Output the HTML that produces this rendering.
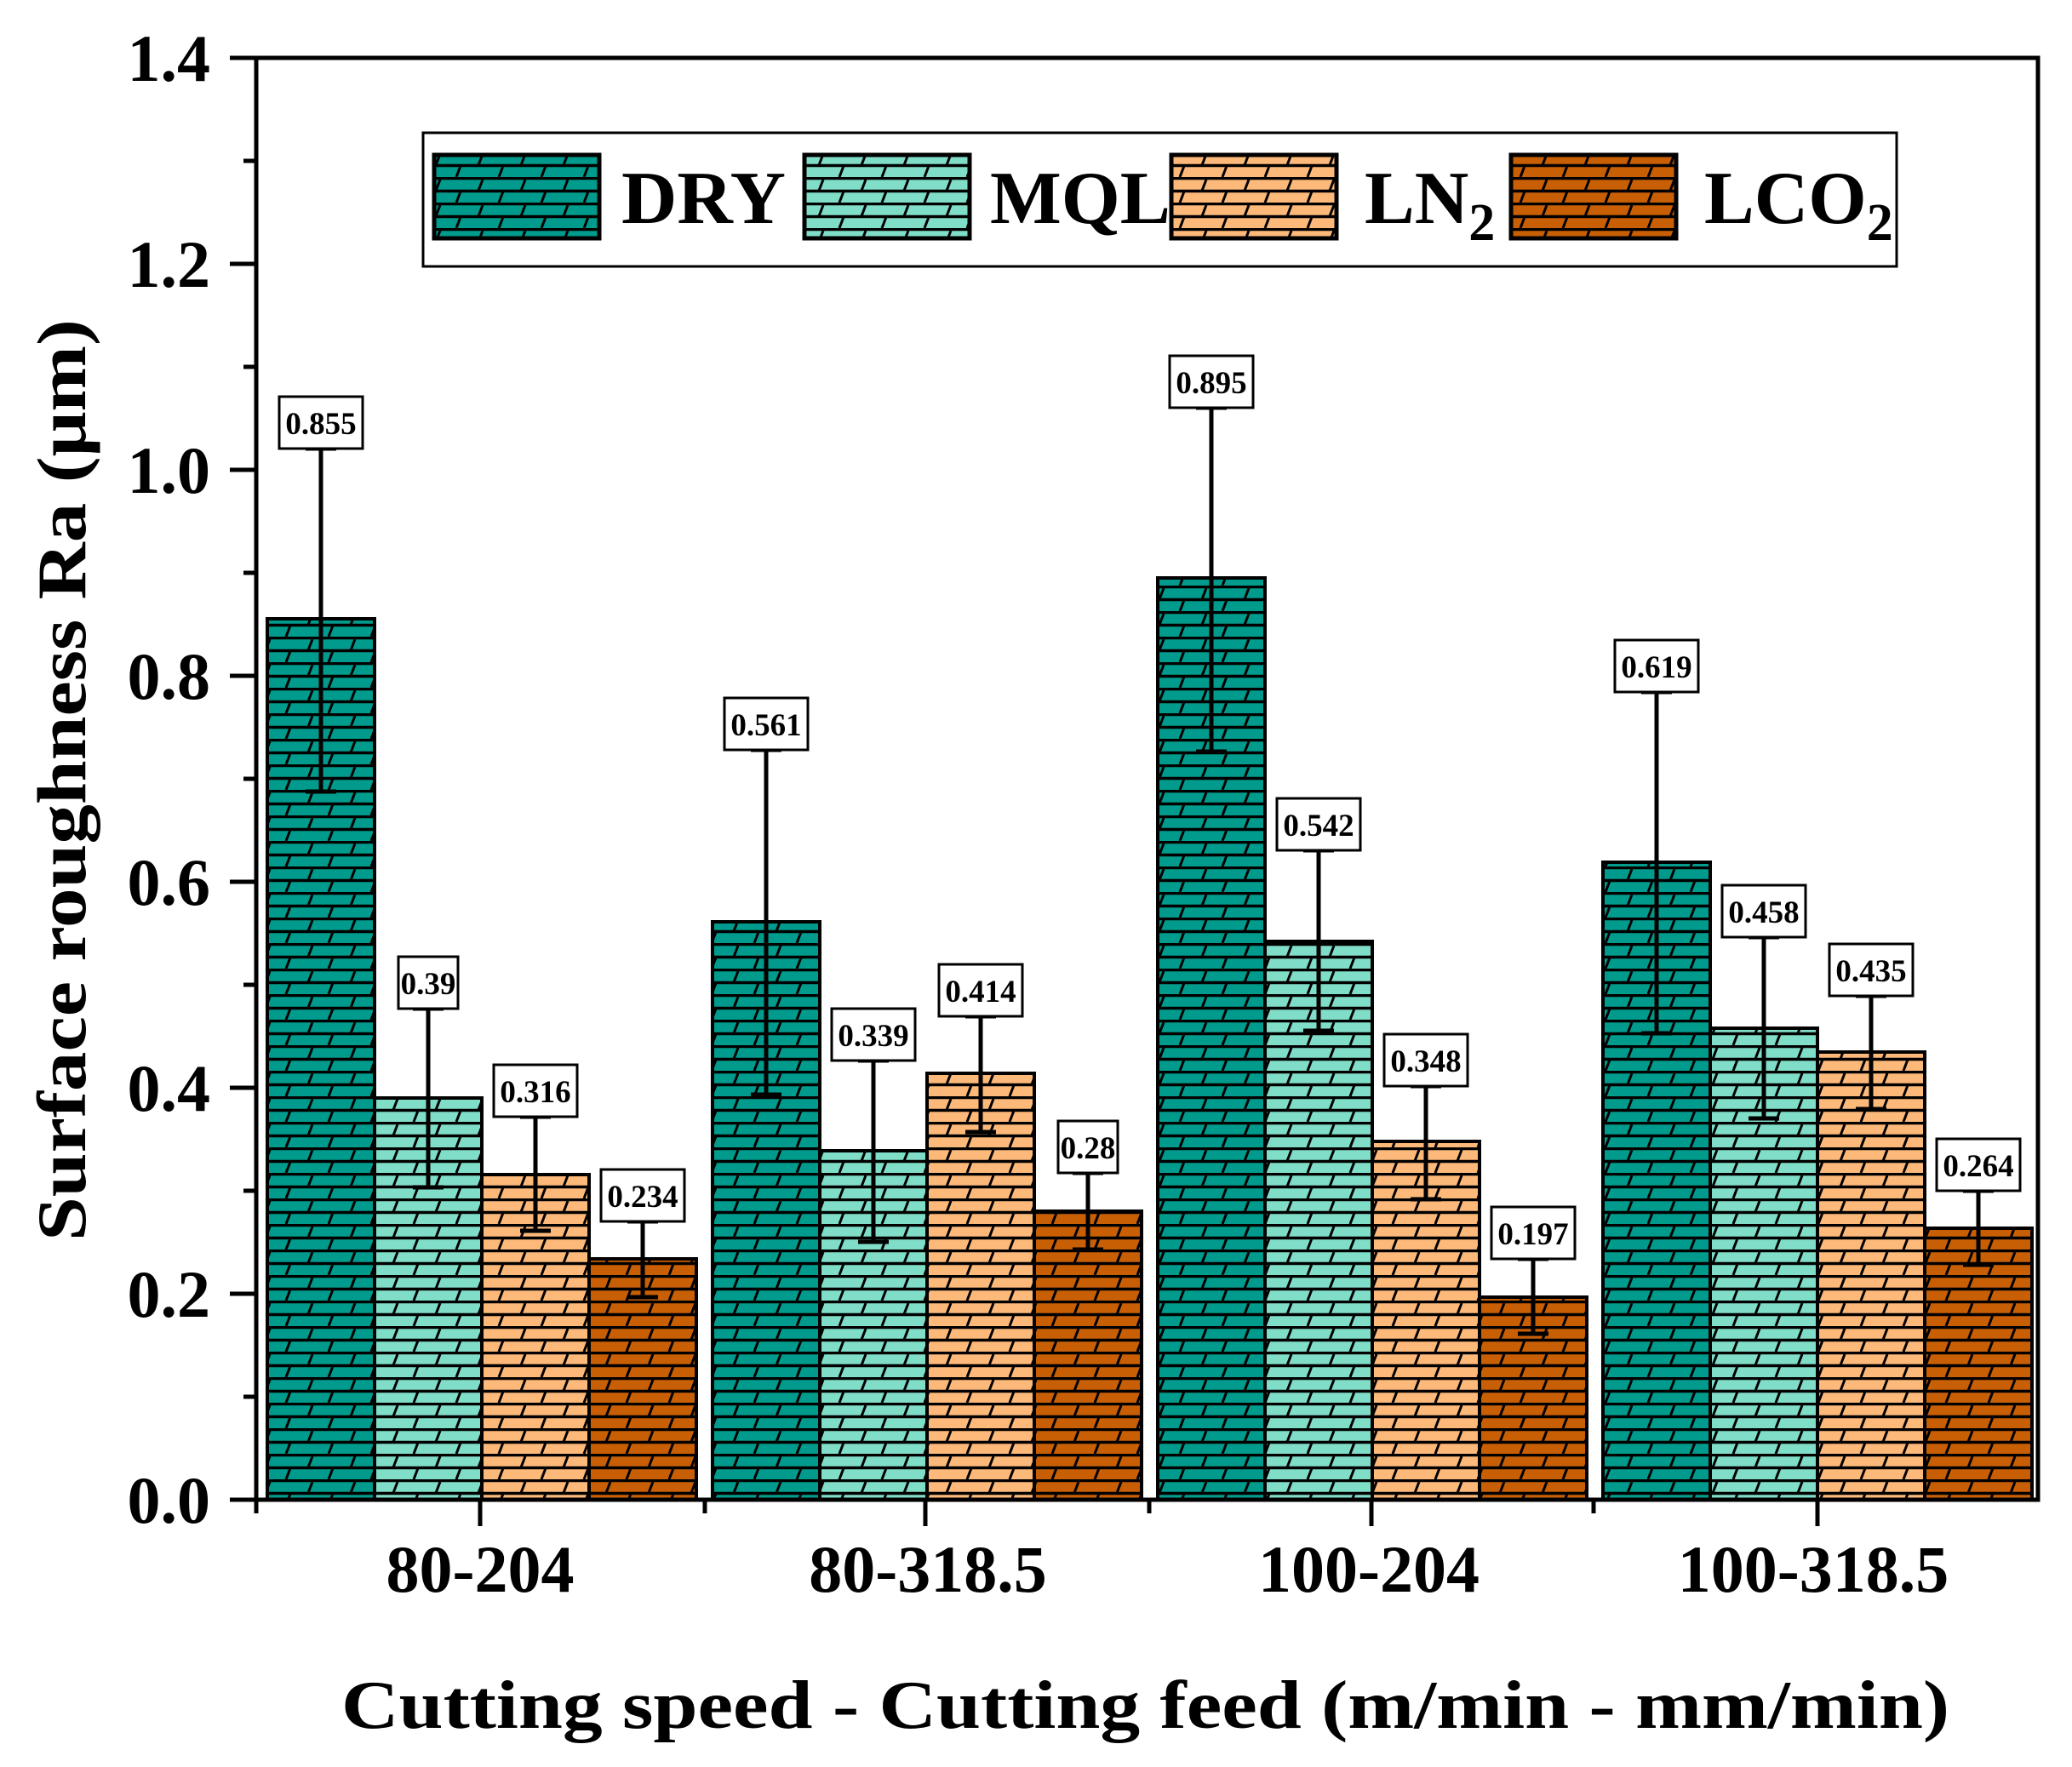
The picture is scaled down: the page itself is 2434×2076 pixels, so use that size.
<!DOCTYPE html>
<html><head><meta charset="utf-8"><style>
html,body{margin:0;padding:0;background:#fff;}
svg{display:block;}
</style></head><body>
<svg width="2434" height="2076" viewBox="0 0 2434 2076" xmlns="http://www.w3.org/2000/svg">
<defs>
<pattern id="brick" width="100" height="30" patternUnits="userSpaceOnUse" y="-2">
<line x1="0" y1="1.5" x2="100" y2="1.5" stroke="#000" stroke-width="3.5"/>
<line x1="0" y1="16.5" x2="100" y2="16.5" stroke="#000" stroke-width="3.5"/>
<line x1="12" y1="16" x2="17" y2="3" stroke="#000" stroke-width="3"/>
<line x1="62" y1="16" x2="67" y2="3" stroke="#000" stroke-width="3"/>
<line x1="36" y1="30" x2="41" y2="17" stroke="#000" stroke-width="3"/>
<line x1="86" y1="30" x2="91" y2="17" stroke="#000" stroke-width="3"/>
</pattern>
</defs>
<g font-family="'Liberation Serif', serif" font-weight="bold">
<g stroke="#000" stroke-width="5">
<line x1="270" y1="1762" x2="301" y2="1762"/>
<line x1="270" y1="1520" x2="301" y2="1520"/>
<line x1="270" y1="1278" x2="301" y2="1278"/>
<line x1="270" y1="1036" x2="301" y2="1036"/>
<line x1="270" y1="794" x2="301" y2="794"/>
<line x1="270" y1="552" x2="301" y2="552"/>
<line x1="270" y1="310" x2="301" y2="310"/>
<line x1="270" y1="68" x2="301" y2="68"/>
<line x1="286" y1="1641" x2="301" y2="1641"/>
<line x1="286" y1="1399" x2="301" y2="1399"/>
<line x1="286" y1="1157" x2="301" y2="1157"/>
<line x1="286" y1="915" x2="301" y2="915"/>
<line x1="286" y1="673" x2="301" y2="673"/>
<line x1="286" y1="431" x2="301" y2="431"/>
<line x1="286" y1="189" x2="301" y2="189"/>
</g>
<g font-size="78" text-anchor="end">
<text x="247" y="1789">0.0</text>
<text x="247" y="1547">0.2</text>
<text x="247" y="1305">0.4</text>
<text x="247" y="1063">0.6</text>
<text x="247" y="821">0.8</text>
<text x="247" y="579">1.0</text>
<text x="247" y="337">1.2</text>
<text x="247" y="95">1.4</text>
</g>
<g stroke="#000" stroke-width="4">
<rect x="314" y="727" width="126" height="1035" fill="#009b8c"/><rect x="314" y="727" width="126" height="1035" fill="url(#brick)"/>
<rect x="440" y="1290" width="126" height="472" fill="#80ddc8"/><rect x="440" y="1290" width="126" height="472" fill="url(#brick)"/>
<rect x="566" y="1380" width="126" height="382" fill="#fdb97a"/><rect x="566" y="1380" width="126" height="382" fill="url(#brick)"/>
<rect x="692" y="1479" width="126" height="283" fill="#c85f05"/><rect x="692" y="1479" width="126" height="283" fill="url(#brick)"/>

<rect x="837" y="1083" width="126" height="679" fill="#009b8c"/><rect x="837" y="1083" width="126" height="679" fill="url(#brick)"/>
<rect x="963" y="1352" width="126" height="410" fill="#80ddc8"/><rect x="963" y="1352" width="126" height="410" fill="url(#brick)"/>
<rect x="1089" y="1261" width="126" height="501" fill="#fdb97a"/><rect x="1089" y="1261" width="126" height="501" fill="url(#brick)"/>
<rect x="1215" y="1423" width="126" height="339" fill="#c85f05"/><rect x="1215" y="1423" width="126" height="339" fill="url(#brick)"/>

<rect x="1360" y="679" width="126" height="1083" fill="#009b8c"/><rect x="1360" y="679" width="126" height="1083" fill="url(#brick)"/>
<rect x="1486" y="1106" width="126" height="656" fill="#80ddc8"/><rect x="1486" y="1106" width="126" height="656" fill="url(#brick)"/>
<rect x="1612" y="1341" width="126" height="421" fill="#fdb97a"/><rect x="1612" y="1341" width="126" height="421" fill="url(#brick)"/>
<rect x="1738" y="1524" width="126" height="238" fill="#c85f05"/><rect x="1738" y="1524" width="126" height="238" fill="url(#brick)"/>

<rect x="1883" y="1013" width="126" height="749" fill="#009b8c"/><rect x="1883" y="1013" width="126" height="749" fill="url(#brick)"/>
<rect x="2009" y="1208" width="126" height="554" fill="#80ddc8"/><rect x="2009" y="1208" width="126" height="554" fill="url(#brick)"/>
<rect x="2135" y="1236" width="126" height="526" fill="#fdb97a"/><rect x="2135" y="1236" width="126" height="526" fill="url(#brick)"/>
<rect x="2261" y="1443" width="126" height="319" fill="#c85f05"/><rect x="2261" y="1443" width="126" height="319" fill="url(#brick)"/>
</g>
<g stroke="#000" stroke-width="5">
<path d="M377 527V930M359 527H395M359 930H395"/>
<path d="M503 1185V1395M485 1185H521M485 1395H521"/>
<path d="M629 1312V1446M611 1312H647M611 1446H647"/>
<path d="M755 1435V1524M737 1435H773M737 1524H773"/>
<path d="M900 881V1286M882 881H918M882 1286H918"/>
<path d="M1026 1246V1459M1008 1246H1044M1008 1459H1044"/>
<path d="M1152 1194V1330M1134 1194H1170M1134 1330H1170"/>
<path d="M1278 1378V1468M1260 1378H1296M1260 1468H1296"/>
<path d="M1423 479V883M1405 479H1441M1405 883H1441"/>
<path d="M1549 999V1211M1531 999H1567M1531 1211H1567"/>
<path d="M1675 1276V1409M1657 1276H1693M1657 1409H1693"/>
<path d="M1801 1479V1567M1783 1479H1819M1783 1567H1819"/>
<path d="M1946 813V1214M1928 813H1964M1928 1214H1964"/>
<path d="M2072 1101V1314M2054 1101H2090M2054 1314H2090"/>
<path d="M2198 1170V1303M2180 1170H2216M2180 1303H2216"/>
<path d="M2324 1399V1486M2306 1399H2342M2306 1486H2342"/>
</g>
<g font-size="37" text-anchor="middle">
<g fill="#fff" stroke="#000" stroke-width="3">
<rect x="328" y="466" width="98" height="61"/>
<rect x="468" y="1124" width="70" height="61"/>
<rect x="580" y="1251" width="98" height="61"/>
<rect x="706" y="1374" width="98" height="61"/>
<rect x="851" y="820" width="98" height="61"/>
<rect x="977" y="1185" width="98" height="61"/>
<rect x="1103" y="1133" width="98" height="61"/>
<rect x="1243" y="1317" width="70" height="61"/>
<rect x="1374" y="418" width="98" height="61"/>
<rect x="1500" y="938" width="98" height="61"/>
<rect x="1626" y="1215" width="98" height="61"/>
<rect x="1752" y="1418" width="98" height="61"/>
<rect x="1897" y="752" width="98" height="61"/>
<rect x="2023" y="1040" width="98" height="61"/>
<rect x="2149" y="1109" width="98" height="61"/>
<rect x="2275" y="1338" width="98" height="61"/>
</g>
<text x="377" y="510">0.855</text>
<text x="503" y="1168">0.39</text>
<text x="629" y="1295">0.316</text>
<text x="755" y="1418">0.234</text>
<text x="900" y="864">0.561</text>
<text x="1026" y="1229">0.339</text>
<text x="1152" y="1177">0.414</text>
<text x="1278" y="1361">0.28</text>
<text x="1423" y="462">0.895</text>
<text x="1549" y="982">0.542</text>
<text x="1675" y="1259">0.348</text>
<text x="1801" y="1462">0.197</text>
<text x="1946" y="796">0.619</text>
<text x="2072" y="1084">0.458</text>
<text x="2198" y="1153">0.435</text>
<text x="2324" y="1382">0.264</text>
</g>
<rect x="301" y="68" width="2093" height="1694" fill="none" stroke="#000" stroke-width="5"/>
<g stroke="#000" stroke-width="5">
<line x1="564" y1="1762" x2="564" y2="1793"/>
<line x1="1087" y1="1762" x2="1087" y2="1793"/>
<line x1="1611" y1="1762" x2="1611" y2="1793"/>
<line x1="2135" y1="1762" x2="2135" y2="1793"/>
<line x1="301" y1="1762" x2="301" y2="1778"/>
<line x1="828" y1="1762" x2="828" y2="1778"/>
<line x1="1350" y1="1762" x2="1350" y2="1778"/>
<line x1="1872" y1="1762" x2="1872" y2="1778"/>
</g>
<g font-size="78" text-anchor="middle">
<text x="564" y="1870">80-204</text>
<text x="1090" y="1870">80-318.5</text>
<text x="1608" y="1870">100-204</text>
<text x="2130" y="1870">100-318.5</text>
</g>
<text x="401" y="2030" font-size="80" textLength="1889" lengthAdjust="spacingAndGlyphs">Cutting speed - Cutting feed (m/min - mm/min)</text>
<text transform="translate(100,1458) rotate(-90)" font-size="82" textLength="1083" lengthAdjust="spacingAndGlyphs">Surface roughness Ra (μm)</text>
<rect x="497" y="156" width="1731" height="157" fill="#fff" stroke="#000" stroke-width="3"/>
<g stroke="#000" stroke-width="5">
<rect x="510" y="182" width="194" height="98" fill="#009b8c"/><rect x="510" y="182" width="194" height="98" fill="url(#brick)"/>
<rect x="945" y="182" width="194" height="98" fill="#80ddc8"/><rect x="945" y="182" width="194" height="98" fill="url(#brick)"/>
<rect x="1376" y="182" width="194" height="98" fill="#fdb97a"/><rect x="1376" y="182" width="194" height="98" fill="url(#brick)"/>
<rect x="1775" y="182" width="194" height="98" fill="#c85f05"/><rect x="1775" y="182" width="194" height="98" fill="url(#brick)"/>
</g>
<g font-size="88">
<text x="730" y="262" textLength="193" lengthAdjust="spacingAndGlyphs">DRY</text>
<text x="1163" y="262" textLength="212" lengthAdjust="spacingAndGlyphs">MQL</text>
<text x="1603" y="262">LN<tspan font-size="62" dy="20">2</tspan></text>
<text x="2002" y="262">LCO<tspan font-size="62" dy="20">2</tspan></text>
</g>
</g>
</svg>
</body></html>
